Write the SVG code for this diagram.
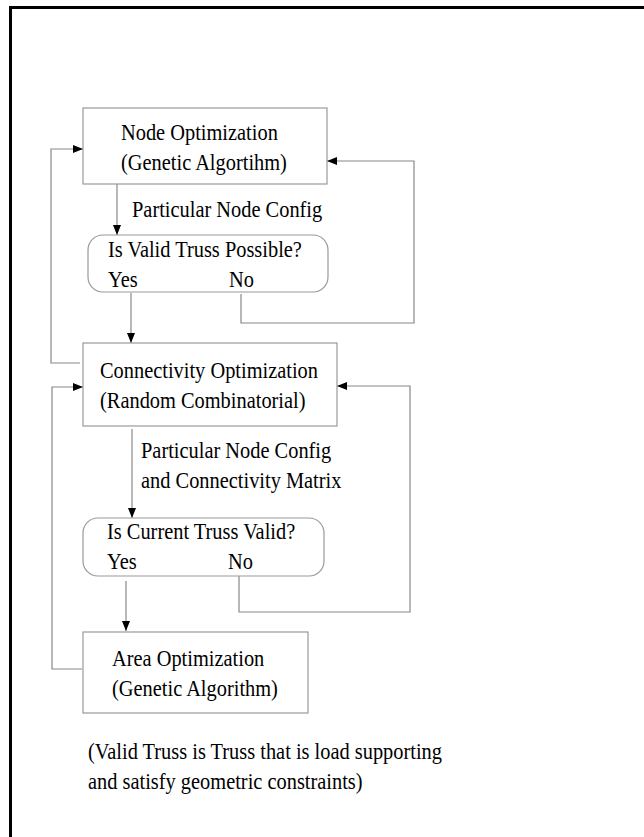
<svg xmlns="http://www.w3.org/2000/svg" width="644" height="837" viewBox="0 0 644 837">
<style>
.box{fill:#fff;stroke:#999;stroke-width:1.2}
.ln{fill:none;stroke:#888;stroke-width:1.2}
.t{font-family:"Liberation Serif","Times New Roman",serif;font-size:20.4px;fill:#000}
</style>
<defs>
<marker id="ah" viewBox="0 0 10 8" refX="10" refY="4" markerWidth="10" markerHeight="8" markerUnits="userSpaceOnUse" orient="auto">
<path d="M0,0 L10,4 L0,8 Z" fill="#000"/>
</marker>
</defs>
<rect width="644" height="837" fill="#fff"/>
<path d="M10.5,837 V7.5 H644" fill="none" stroke="#000" stroke-width="3"/>

<g id="connectors">
<path class="ln" d="M117,184 V235" marker-end="url(#ah)"/>
<path class="ln" d="M80,363 H51 V149 H83" marker-end="url(#ah)"/>
<path class="ln" d="M241,294 V323 H414 V161 H327" marker-end="url(#ah)"/>
<path class="ln" d="M131,293 V343" marker-end="url(#ah)"/>
<path class="ln" d="M132,429 V518" marker-end="url(#ah)"/>
<path class="ln" d="M239,576 V612 H410 V386 H337" marker-end="url(#ah)"/>
<path class="ln" d="M126,581 V631" marker-end="url(#ah)"/>
<path class="ln" d="M82,669 H52 V387 H83" marker-end="url(#ah)"/>
</g>

<g id="node-opt">
<rect class="box" x="83" y="108" width="244" height="76"/>
<text class="t" transform="translate(121,140) scale(1,1.18)">Node Optimization</text>
<text class="t" transform="translate(121,170) scale(1,1.18)">(Genetic Algortihm)</text>
</g>
<g id="label1">
<text class="t" transform="translate(132,217) scale(1,1.18)">Particular Node Config</text>
</g>
<g id="decision1">
<rect class="box" x="88" y="235" width="240" height="57" rx="15" ry="15"/>
<text class="t" transform="translate(108,257) scale(1,1.18)">Is Valid Truss Possible?</text>
<text class="t" transform="translate(108,287) scale(1,1.18)">Yes</text>
<text class="t" transform="translate(229,287) scale(1,1.18)">No</text>
</g>
<g id="conn-opt">
<rect class="box" x="83" y="343" width="254" height="83"/>
<text class="t" transform="translate(100,378) scale(1,1.18)">Connectivity Optimization</text>
<text class="t" transform="translate(100,408) scale(1,1.18)">(Random Combinatorial)</text>
</g>
<g id="label2">
<text class="t" transform="translate(141,458) scale(1,1.18)">Particular Node Config</text>
<text class="t" transform="translate(141,488) scale(1,1.18)">and Connectivity Matrix</text>
</g>
<g id="decision2">
<rect class="box" x="83" y="518" width="241" height="58" rx="15" ry="15"/>
<text class="t" transform="translate(107,539) scale(1,1.18)">Is Current Truss Valid?</text>
<text class="t" transform="translate(107,569) scale(1,1.18)">Yes</text>
<text class="t" transform="translate(228,569) scale(1,1.18)">No</text>
</g>
<g id="area-opt">
<rect class="box" x="83" y="632" width="225" height="81"/>
<text class="t" transform="translate(112,666) scale(1,1.18)">Area Optimization</text>
<text class="t" transform="translate(112,696) scale(1,1.18)">(Genetic Algorithm)</text>
</g>
<g id="note">
<text class="t" transform="translate(88,759) scale(1,1.18)">(Valid Truss is Truss that is load supporting</text>
<text class="t" transform="translate(88,789) scale(1,1.18)">and satisfy geometric constraints)</text>
</g>
</svg>
